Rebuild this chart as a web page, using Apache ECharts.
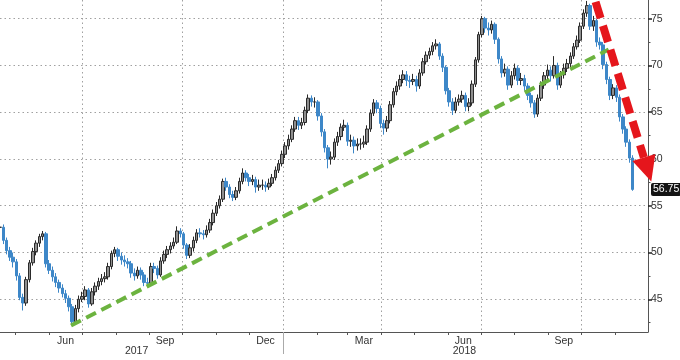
<!DOCTYPE html>
<html><head><meta charset="utf-8">
<script src="https://cdn.jsdelivr.net/npm/echarts@6/dist/echarts.min.js"></script>
<style>html,body{margin:0;padding:0;background:#fff}#c{width:680px;height:360px}</style>
</head><body><div id="c"></div>
<script>
// ---- data ----
const startDate = '2017-04-17';
const stepDays = 3;
const closes = [
52.7,51.3,50.2,49.5,49.0,47.5,45.2,44.6,47.1,48.9,
50.1,51.0,51.7,52.0,48.8,48.1,47.4,46.8,46.2,45.6,
45.1,44.2,42.6,44.0,45.0,45.3,46.0,44.5,45.8,46.4,
46.9,47.2,47.4,48.5,49.9,50.3,49.6,49.2,49.0,48.8,
47.8,47.5,48.1,47.6,46.8,46.7,48.5,48.3,47.6,49.1,
49.8,50.3,50.7,51.1,52.3,52.0,50.8,49.7,50.5,51.3,
52.1,52.0,51.9,52.4,53.2,54.2,55.0,55.7,57.6,57.0,
56.2,55.9,56.6,57.6,58.5,58.0,57.6,57.8,57.0,57.2,
57.2,57.0,57.4,58.0,58.8,59.5,60.5,61.4,62.1,63.2,
64.1,63.6,63.9,65.2,66.5,66.1,66.1,64.6,62.9,61.2,
60.0,60.2,61.8,62.4,63.4,63.6,61.9,62.0,61.4,61.6,
61.6,61.8,63.2,64.9,66.0,65.4,63.8,63.3,64.1,65.8,
67.2,67.8,68.5,69.0,68.4,68.3,68.5,67.8,69.2,70.4,
71.1,71.5,72.1,72.3,71.0,69.8,67.3,66.1,65.2,66.1,
66.4,66.8,65.6,66.0,68.0,70.6,73.3,75.0,74.0,73.8,
74.4,72.8,70.7,69.2,69.6,67.9,68.9,69.7,68.4,68.6,
67.8,66.8,66.0,64.8,66.5,67.9,68.9,69.5,68.9,70.0,
67.9,69.0,69.7,70.2,71.0,72.0,72.7,74.2,75.6,76.4,
74.2,74.8,72.5,72.2,70.1,68.5,66.8,67.6,66.6,64.5,
63.2,61.8,60.1,56.75
];
const highs = [
53.3,53.0,51.6,50.6,50.0,49.3,47.8,45.6,47.4,49.2,
50.5,51.3,52.0,52.3,52.2,49.2,48.5,47.8,47.1,46.6,
46.0,45.4,44.5,44.4,45.4,45.8,46.4,46.2,46.2,46.8,
47.3,47.7,47.9,48.9,50.2,50.6,50.5,50.0,49.7,49.4,
49.1,48.3,48.5,48.4,47.9,47.3,48.9,48.9,48.6,49.5,
50.2,50.7,51.1,51.6,52.8,52.6,52.2,51.0,50.9,51.7,
52.5,52.6,52.4,52.9,53.6,54.6,55.4,56.1,57.9,58.0,
57.3,56.6,57.0,58.0,59.0,58.8,58.4,58.3,58.1,57.8,
57.8,57.6,57.9,58.4,59.2,59.9,60.9,61.8,62.6,63.6,
64.5,64.5,64.4,65.6,66.9,66.8,66.6,66.3,64.9,63.2,
61.5,60.8,62.2,62.9,63.8,64.2,63.9,62.6,62.4,62.2,
62.2,62.5,63.6,65.3,66.4,66.3,65.7,64.2,64.6,66.2,
67.6,68.3,69.0,69.5,69.4,68.9,69.1,68.9,69.6,70.8,
71.5,71.9,72.5,72.8,72.5,71.3,70.0,67.6,66.5,66.6,
66.9,67.3,67.1,66.5,68.4,70.9,73.6,75.3,75.2,74.6,
74.8,74.6,73.0,71.0,70.2,69.9,69.4,70.2,70.0,69.2,
69.0,68.1,67.1,66.3,66.9,68.3,69.3,70.1,69.9,71.0,
70.3,69.4,70.2,70.7,71.4,72.4,73.2,74.6,76.0,76.9,
76.6,75.3,75.0,73.0,72.5,70.4,68.8,68.0,67.9,66.9,
64.8,63.5,62.1,60.4
];
const lows = [
52.2,50.9,49.8,49.1,48.4,47.0,44.9,43.8,44.3,46.8,
48.6,49.7,50.6,51.3,48.4,47.7,46.9,46.3,45.7,45.2,
44.6,43.7,42.3,42.4,43.6,44.7,44.9,44.1,44.3,45.4,
46.0,46.5,46.8,47.1,48.2,49.5,49.1,48.7,48.5,48.3,
47.3,47.0,47.2,47.1,46.4,46.3,46.5,47.8,47.2,47.4,
48.8,49.4,49.9,50.4,50.9,51.6,50.4,49.3,49.4,50.1,
51.0,51.6,51.4,51.6,52.1,52.9,53.9,54.7,55.4,56.6,
55.8,55.5,55.6,56.3,57.3,57.6,57.1,57.2,56.4,56.6,
56.7,56.5,56.7,57.1,57.7,58.5,59.2,60.1,61.0,61.8,
62.9,63.1,63.2,63.6,64.9,65.6,65.5,64.1,62.4,60.7,
59.0,59.4,59.9,61.4,62.0,63.0,61.4,61.3,60.6,60.9,
61.0,61.2,61.5,62.9,64.6,64.9,63.3,62.6,62.9,63.8,
65.5,66.8,67.4,68.1,67.8,67.6,67.9,67.2,67.5,68.9,
70.1,70.7,71.1,71.7,70.6,69.3,66.9,65.6,64.7,64.9,
65.7,66.0,65.1,65.1,65.7,67.7,70.3,73.0,73.5,73.2,
73.4,72.3,70.2,68.7,68.8,67.4,67.6,68.5,67.9,67.9,
67.3,66.3,65.5,64.4,64.5,66.2,67.5,68.5,68.3,68.6,
67.4,67.6,68.6,69.3,69.8,70.7,71.7,72.4,73.9,75.2,
73.8,73.7,72.0,71.7,69.6,68.0,66.3,66.4,66.1,64.0,
62.7,61.3,59.6,56.6
];
const lastValue = 56.75;

const axisMin = '2017-04-17';
const axisMax = '2018-12-01';
const monthTicks = ['2017-05-01','2017-06-01','2017-07-01','2017-08-01','2017-09-01','2017-10-01','2017-11-01','2017-12-01',
  '2018-01-01','2018-02-01','2018-03-01','2018-04-01','2018-05-01','2018-06-01','2018-07-01','2018-08-01','2018-09-01','2018-10-01','2018-11-01'];
const quarterLines = ['2017-07-01','2017-10-01','2018-01-01','2018-04-01','2018-07-01','2018-10-01'];
const monthLabelDates = ['2017-06-16','2017-09-15','2017-12-16','2018-03-16','2018-06-15','2018-09-15'];
const monthLabelTexts = ['Jun','Sep','Dec','Mar','Jun','Sep'];
const yearLabelDates = ['2017-08-20','2018-06-16'];
const yearLabelTexts = ['2017','2018'];
const yearBreak = ['2018-01-01'];
const yLabels = [45,50,55,60,65,70,75];
const yMinor = [42.5,47.5,52.5,57.5,62.5,67.5,72.5];
const yMin = 41.5, yMax = 77;

const greenTrend = [['2017-06-21',42.2],['2018-10-26',71.7]];
const redArrow = [['2018-10-14',76.8],['2018-12-04',57.6]];

// ---- build ----
function ts(s){const p=s.split('-').map(Number);return Date.UTC(p[0],p[1]-1,p[2]);}
const t0 = ts(startDate);
const candles = closes.map((c,i)=>{
  const o = i ? closes[i-1] : c;
  return [t0 + i*stepDays*86400000, o, c, lows[i], highs[i]];
});
const FONT = "'Liberation Sans', Arial, sans-serif";
const monthMap = {}; monthLabelDates.forEach((d,i)=>monthMap[ts(d)]=monthLabelTexts[i]);
const yearMap = {}; yearLabelDates.forEach((d,i)=>yearMap[ts(d)]=yearLabelTexts[i]);
const dotted = {color:'#a0a0a0', width:1, type:[1.5,3]};

const chart = echarts.init(document.getElementById('c'), null, {renderer:'canvas'});
const common = {type:'value', min:ts(axisMin), max:ts(axisMax), position:'bottom', scale:true};
chart.setOption({
  animation:false,
  backgroundColor:'#fff',
  grid:{left:0,right:32,top:0,bottom:28},
  xAxis:[
    Object.assign({}, common, {
      axisLine:{onZero:false, lineStyle:{color:'#555',width:1}},
      axisTick:{customValues:monthTicks.map(ts), length:3, lineStyle:{color:'#555'}},
      axisLabel:{customValues:monthLabelDates.map(ts), formatter:v=>monthMap[v]||'', margin:4,
        fontSize:10.5, color:'#333', fontFamily:FONT},
      splitLine:{show:false}
    }),
    Object.assign({}, common, {
      axisLine:{show:false, onZero:false},
      axisTick:{show:false, customValues:quarterLines.map(ts)},
      axisLabel:{show:false},
      splitLine:{show:true, lineStyle:dotted}
    }),
    Object.assign({}, common, {
      axisLine:{show:false, onZero:false},
      axisTick:{customValues:yearBreak.map(ts), length:22, lineStyle:{color:'#aaa'}},
      axisLabel:{customValues:yearLabelDates.map(ts), formatter:v=>yearMap[v]||'', margin:14,
        fontSize:10.5, color:'#333', fontFamily:FONT},
      splitLine:{show:false}
    })
  ],
  yAxis:[
    {type:'value', position:'right', min:yMin, max:yMax,
      axisLine:{show:true, onZero:false, lineStyle:{color:'#555'}},
      axisTick:{customValues:yLabels, length:4, lineStyle:{color:'#222',width:1.5}},
      axisLabel:{customValues:yLabels, margin:3, fontSize:10.5, color:'#333', fontFamily:FONT},
      splitLine:{show:true, lineStyle:dotted}
    },
    {type:'value', position:'right', min:yMin, max:yMax,
      axisLine:{show:false},
      axisTick:{customValues:yMinor, length:2.5, lineStyle:{color:'#555'}},
      axisLabel:{show:false},
      splitLine:{show:false}
    }
  ],
  series:[{
    type:'candlestick',
    xAxisIndex:0, yAxisIndex:0,
    data:candles,
    encode:{x:0, y:[1,2,3,4]},
    barWidth:3,
    itemStyle:{color:'#8f8f8f', color0:'#3d87c8', borderColor:'#2a2a2a', borderColor0:'#3d87c8', borderWidth:1}
  }]
});

function px(p){return chart.convertToPixel({xAxisIndex:0,yAxisIndex:0},[ts(p[0]),p[1]]);}
const g1 = px(greenTrend[0]), g2 = px(greenTrend[1]);
const r1 = px(redArrow[0]), r2 = px(redArrow[1]);
const dx = r2[0]-r1[0], dy = r2[1]-r1[1], L = Math.hypot(dx,dy);
const ux = dx/L, uy = dy/L, nx = -uy, ny = ux;
const headLen = 25, headHalf = 12;
const base = [r2[0]-ux*headLen, r2[1]-uy*headLen];
const lastY = chart.convertToPixel({yAxisIndex:0}, lastValue);
const gridRight = chart.convertToPixel({xAxisIndex:0}, ts(axisMax));

chart.setOption({
  graphic:[
    {type:'line', z:100, shape:{x1:g1[0],y1:g1[1],x2:g2[0],y2:g2[1]},
      style:{stroke:'#6cb33f', lineWidth:4, lineDash:[11,6]}},
    {type:'line', z:101, shape:{x1:r1[0],y1:r1[1],x2:base[0],y2:base[1]},
      style:{stroke:'#e5161c', lineWidth:8, lineDash:[17,8]}},
    {type:'polygon', z:101, shape:{points:[[r2[0],r2[1]],[base[0]+nx*headHalf,base[1]+ny*headHalf],[base[0]-nx*headHalf,base[1]-ny*headHalf]]},
      style:{fill:'#e5161c'}},
    {type:'text', z:102, x:gridRight+3, y:lastY, style:{text:String(lastValue), fill:'#fff', backgroundColor:'#141414',
      padding:[1,2,1,2], borderRadius:2, fontSize:10.5, fontFamily:FONT, verticalAlign:'middle', align:'left'}}
  ]
});
</script></body></html>
